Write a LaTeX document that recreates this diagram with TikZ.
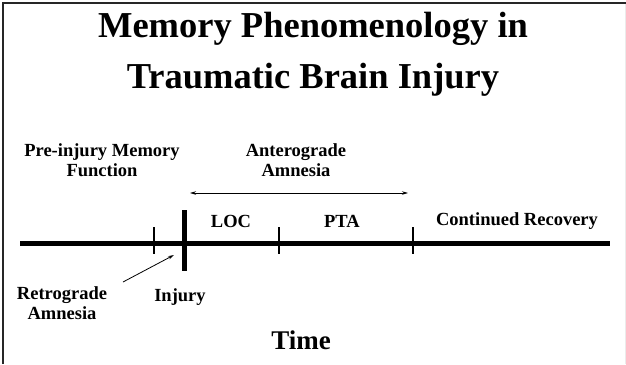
\documentclass[tikz,border=0pt]{standalone}
\usepackage{fontspec}
\setmainfont{LiberationSerif}[
    Extension=.ttf,
    UprightFont=*-Regular,
    BoldFont=*-Bold,
    ItalicFont=*-Italic,
    BoldItalicFont=*-BoldItalic
]
\usepackage{tikz}
\usetikzlibrary{arrows.meta,positioning,calc}

\begin{document}
\begin{tikzpicture}[
    x=1pt,
    y=-1pt,
    >={Stealth[length=6pt,width=3.5pt]},
    title/.style={
        font=\fontsize{36.5}{51}\selectfont\bfseries,
        align=center,
        inner sep=0pt
    },
    label/.style={
        font=\fontsize{18.5}{20}\selectfont\bfseries,
        align=center,
        inner sep=0pt
    },
    tick/.style={
        line width=1.4pt
    },
    pointer/.style={
        ->,
        line width=0.8pt
    }
]

\useasboundingbox (0,0) rectangle (626,364);

% Frame, dark on top and left, faint on the right
\draw[black!85, line width=2pt] (3,364) -- (3,3) -- (626,3);
\draw[black!8, line width=1pt] (625,4) -- (625,364);

% Title
\node[title] (heading) at (313,54.5) {Memory Phenomenology in\\Traumatic Brain Injury};

% Upper labels
\node[label] (preinjury) at (102,160) {Pre-injury Memory\\Function};
\node[label] (antero) at (296,160) {Anterograde\\Amnesia};

% Phase labels along the line
\node[label] (loc) at (231,221) {LOC};
\node[label] (pta) at (342,221) {PTA};
\node[label] (recovery) at (517,221) {Continued Recovery};

% Time line
\coordinate (lineStart) at (20,243);
\coordinate (lineEnd) at (610,243);
\draw[line width=5pt] (lineStart) -- (lineEnd);

% Ticks
\draw[tick] (154,227) -- (154,254);
\draw[line width=5pt] (184,210) -- (184,271);
\draw[tick] (279,227) -- (279,254);
\draw[tick] (413,227) -- (413,254);

% Anterograde span
\coordinate (anteroA) at (190,193);
\coordinate (anteroB) at (408,193);
\draw[<->, line width=0.8pt] (anteroA) -- (anteroB);

% Lower labels
\node[label] (retro) at (62,303) {Retrograde\\Amnesia};
\node[label] (injury) at (180,297) {Injury};

% Pointer to the retrograde gap
\coordinate (retroTip) at (174,255);
\coordinate (retroTail) at (123,282);
\draw[pointer] (retroTail) -- (retroTip);

% Axis label
\node[font=\fontsize{27}{30}\selectfont\bfseries, inner sep=0pt] (time) at (301,340) {Time};

\end{tikzpicture}
\end{document}
